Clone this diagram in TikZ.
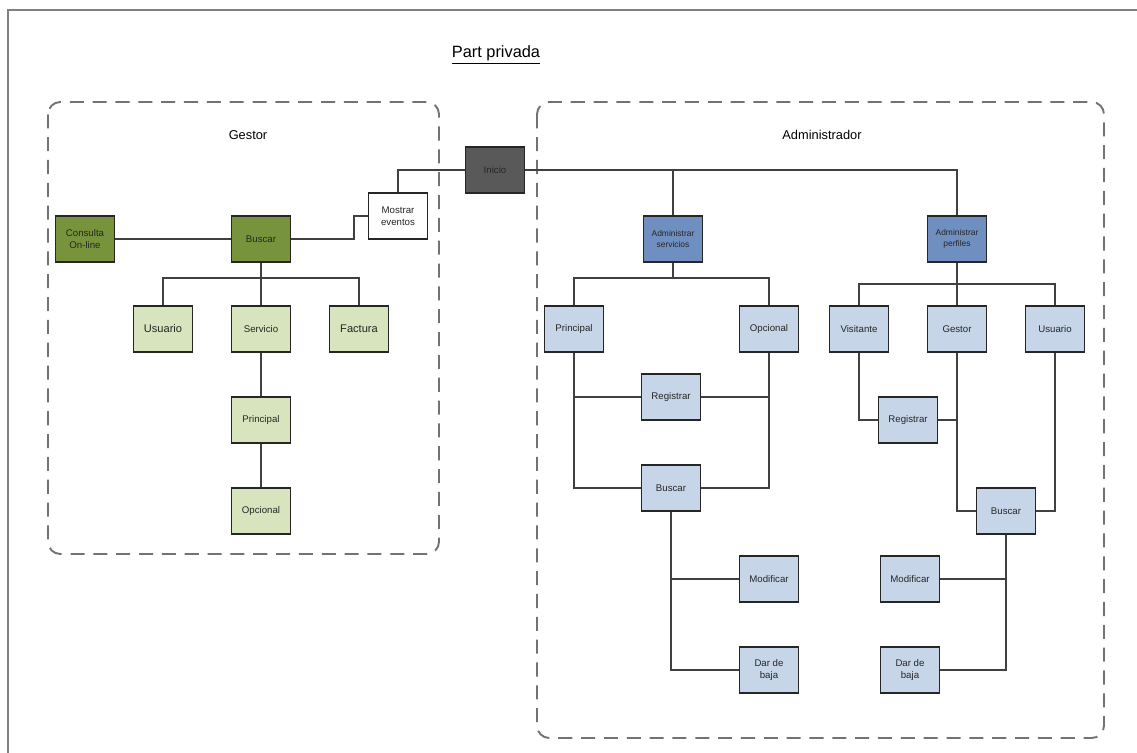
\documentclass[tikz,border=0pt]{standalone}
\usepackage{fontspec}
\setmainfont{Liberation Sans}
\definecolor{verdeosc}{RGB}{119,147,60}
\definecolor{verdecl}{RGB}{215,228,189}
\definecolor{azulmed}{RGB}{111,143,192}
\definecolor{azulcl}{RGB}{198,213,232}
\definecolor{grisosc}{RGB}{89,89,89}
\begin{document}
\begin{tikzpicture}[x=0.02cm,y=-0.02cm,
    caja/.style={draw=black!85,line width=0.9pt,minimum width=1.18cm,minimum height=0.92cm,
      inner sep=1pt,align=center,text=black!85,font=\fontsize{5.5}{6.6}\selectfont},
    hojaG/.style={caja,fill=verdecl},
    raizG/.style={caja,fill=verdeosc},
    hojaA/.style={caja,fill=azulcl},
    raizA/.style={caja,fill=azulmed,font=\fontsize{4.8}{6}\selectfont},
    linea/.style={draw=black!75,line width=0.7pt},
    zona/.style={draw=black!55,line width=1.1pt,dash pattern=on 8pt off 5pt,rounded corners=7pt}]
    \useasboundingbox (0,0) rectangle (1137,753);
    \draw[black!50,line width=1.6pt] (8,10) rectangle (1160,780);
    \node (titulo) at (496,55) {\fontsize{9.3}{11}\selectfont\underline{Part privada}};
    % ---- zonas ----
    \draw[zona] (48,102) rectangle (439,554);
    \draw[zona] (537,102) rectangle (1104,738);
    \node (tGestor) at (248,135) {\fontsize{7.3}{9}\selectfont Gestor};
    \node (tAdmin) at (822,135) {\fontsize{7.3}{9}\selectfont Administrador};
    % ---- inicio ----
    \node[caja,fill=grisosc] (inicio) at (495,170) {Inicio};
    \node[caja,fill=white] (mostrar) at (398,216) {Mostrar\\eventos};
    % ---- Gestor ----
    \node[raizG] (consulta) at (85,239) {Consulta\\On-line};
    \node[raizG] (buscarG) at (261,239) {Buscar};
    \node[hojaG,font=\fontsize{6.3}{7.5}\selectfont] (usuarioG) at (163,329) {Usuario};
    \node[hojaG] (servicioG) at (261,329) {Servicio};
    \node[hojaG,font=\fontsize{6.3}{7.5}\selectfont] (facturaG) at (359,329) {Factura};
    \node[hojaG] (principalG) at (261,420) {Principal};
    \node[hojaG] (opcionalG) at (261,511) {Opcional};
    \coordinate (bifG) at (261,278);
    \coordinate (codo) at (354,0);
    % ---- Administrador : servicios ----
    \node[raizA] (admserv) at (673,239) {Administrar\\servicios};
    \node[hojaA] (principalS) at (574,329) {Principal};
    \node[hojaA] (opcionalS) at (769,329) {Opcional};
    \node[hojaA] (registrarS) at (671,397) {Registrar};
    \node[hojaA] (buscarS) at (671,488) {Buscar};
    \node[hojaA] (modificarS) at (769,579) {Modificar};
    \node[hojaA] (bajaS) at (769,670) {Dar de\\baja};
    \coordinate (bifS) at (673,278);
    % ---- Administrador : perfiles ----
    \node[raizA] (admperf) at (957,239) {Administrar\\perfiles};
    \node[hojaA] (visitante) at (859,329) {Visitante};
    \node[hojaA] (gestorP) at (957,329) {Gestor};
    \node[hojaA] (usuarioP) at (1055,329) {Usuario};
    \node[hojaA] (registrarP) at (908,420) {Registrar};
    \node[hojaA] (buscarP) at (1006,511) {Buscar};
    \node[hojaA] (modificarP) at (910,579) {Modificar};
    \node[hojaA] (bajaP) at (910,670) {Dar de\\baja};
    \coordinate (bifP) at (957,284);
    % ---- conexiones ----
    \draw[linea] (inicio.east) -| (admperf.north);
    \draw[linea] (inicio.east -| admserv.north) -- (admserv.north);
    \draw[linea] (inicio.west) -| (mostrar.north);
    \draw[linea] (buscarG.east) -| (codo |- mostrar.west) -- (mostrar.west);
    \draw[linea] (consulta) -- (buscarG);
    \draw[linea] (buscarG) -- (servicioG);
    \draw[linea] (usuarioG.north) |- (bifG) -| (facturaG.north);
    \draw[linea] (servicioG) -- (principalG) -- (opcionalG);
    \draw[linea] (admserv.south) -- (bifS);
    \draw[linea] (principalS.north) |- (bifS) -| (opcionalS.north);
    \draw[linea] (principalS.south) |- (buscarS.west);
    \draw[linea] (principalS.south |- registrarS.west) -- (registrarS.west);
    \draw[linea] (opcionalS.south) |- (buscarS.east);
    \draw[linea] (opcionalS.south |- registrarS.east) -- (registrarS.east);
    \draw[linea] (buscarS.south) |- (bajaS.west);
    \draw[linea] (buscarS.south |- modificarS.west) -- (modificarS.west);
    \draw[linea] (admperf) -- (gestorP);
    \draw[linea] (visitante.north) |- (bifP) -| (usuarioP.north);
    \draw[linea] (visitante.south) |- (registrarP.west);
    \draw[linea] (gestorP.south) |- (buscarP.west);
    \draw[linea] (registrarP.east) -- (registrarP.east -| gestorP.south);
    \draw[linea] (usuarioP.south) |- (buscarP.east);
    \draw[linea] (buscarP.south) |- (bajaP.east);
    \draw[linea] (buscarP.south |- modificarP.east) -- (modificarP.east);
\end{tikzpicture}
\end{document}
